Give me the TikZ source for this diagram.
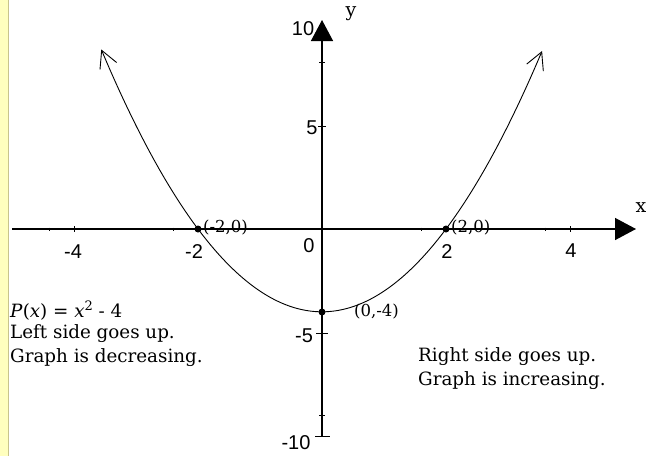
\documentclass[tikz,border=0pt]{standalone}
\usepackage{fontspec}
\setmainfont{DejaVu Serif}
\newfontfamily\numfont{Liberation Sans}
\usetikzlibrary{arrows.meta}
\definecolor{stripyellow}{RGB}{255,255,190}
\definecolor{stripedge}{RGB}{200,196,140}
\tikzset{
 axisline/.style={line width=1.4pt, -{Triangle[length=21pt,width=22pt]}},
 tickmark/.style={line width=1pt},
 curveline/.style={line width=0.9pt, {Straight Barb[length=17pt,width=18pt]}-{Straight Barb[length=17pt,width=18pt]}},
 dotmark/.style={circle, fill=black, inner sep=0pt, minimum size=7pt},
 ticklbl/.style={font=\numfont\fontsize{20}{20}\selectfont, inner sep=0pt},
 ptlbl/.style={font=\fontsize{16.5}{16.5}\selectfont, inner sep=0pt, anchor=west},
 txt/.style={font=\fontsize{18.3}{23}\selectfont, inner sep=0pt, anchor=west},
 axlbl/.style={font=\fontsize{19}{19}\selectfont, inner sep=0pt},
}
\begin{document}
\begin{tikzpicture}[x=1pt,y=-1pt]
\useasboundingbox (0,0) rectangle (653,456);
\fill[white] (0,0) rectangle (653,456);
\fill[stripyellow] (0,0) rectangle (8,456);
\draw[stripedge, line width=1pt] (8.5,0) -- (8.5,456);
% axes
\coordinate (xl) at (12,229);
\coordinate (xr) at (636,229);
\coordinate (yb) at (322,436);
\coordinate (yt) at (322,20);
\draw[axisline] (xl) -- (xr);
\draw[axisline] (yb) -- (yt);
% x ticks
\foreach \t in {-4,-2,2,4}{
  \draw[tickmark] ({322+62*\t},226) -- ({322+62*\t},232);
  \draw[tickmark] ({322+62*(\t-0.4)},227.5) -- ({322+62*(\t-0.4)},230.5);
}
% y ticks
\draw[tickmark] (318,126) -- (326,126);
\draw[tickmark] (316,333) -- (328,333);
\draw[tickmark] (315,436) -- (330,436);
\draw[tickmark] (319,62) -- (325,62);
\draw[tickmark] (319,415) -- (325,415);
% curve
\draw[curveline] plot[domain=-3.56:3.55, samples=90, smooth] ({322+62*\x},{229-20.7*(\x*\x-4)});
% points
\node[dotmark] (pa) at (198,229) {};
\node[dotmark] (pb) at (446,229) {};
\node[dotmark] (pc) at (322,312) {};
\node[ptlbl] (la) at (203,228) {(-2,0)};
\node[ptlbl] (lb) at (451,228) {(2,0)};
\node[ptlbl] (lc) at (354,312) {(0,-4)};
% tick labels
\node[ticklbl] (tm4) at (73,252) {-4};
\node[ticklbl] (tm2) at (194,252) {-2};
\node[ticklbl] (t0) at (309,246) {0};
\node[ticklbl] (t2) at (447,252) {2};
\node[ticklbl] (t4) at (571,251) {4};
\node[ticklbl] (t10) at (303,29) {10};
\node[ticklbl] (t5) at (312,128) {5};
\node[ticklbl] (tm5) at (304,336) {-5};
\node[ticklbl] (tm10) at (296,443) {-10};
% axis labels
\node[axlbl] (xlab) at (641,208) {x};
\node[axlbl] (ylab) at (351,14) {y};
% texts
\node[txt] (s1) at (10,311) {\textit{P}(\textit{x}) = \textit{x}\raisebox{0.38em}{\fontsize{13}{13}\selectfont 2} - 4};
\node[txt] (s2) at (10,334) {Left side goes up.};
\node[txt] (s3) at (10,358) {Graph is decreasing.};
\node[txt] (s4) at (418,357) {Right side goes up.};
\node[txt] (s5) at (418,381) {Graph is increasing.};
\end{tikzpicture}
\end{document}
